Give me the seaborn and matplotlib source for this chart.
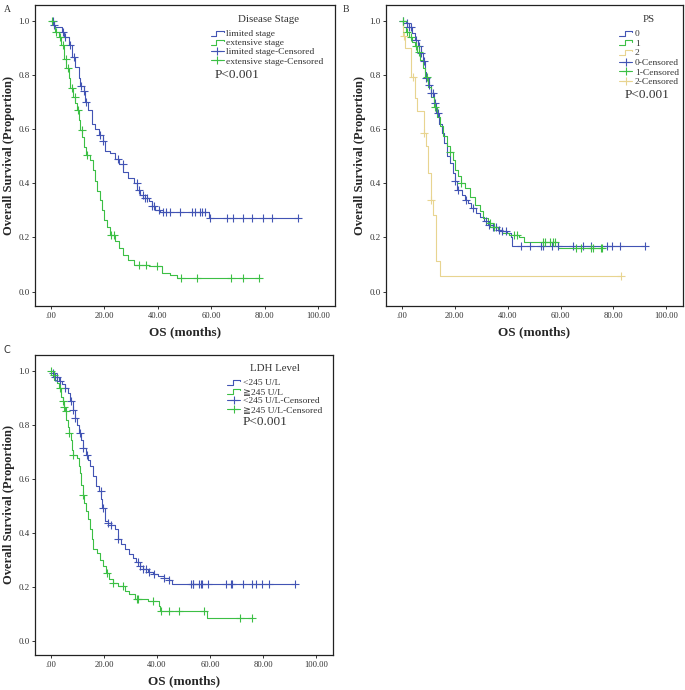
import numpy as np
import matplotlib
matplotlib.use("Agg")
import matplotlib.pyplot as plt
import seaborn as sns
from matplotlib.lines import Line2D
from matplotlib.legend_handler import HandlerBase

sns.set_style("ticks")
plt.rcParams['font.family'] = ['Liberation Serif', 'DejaVu Serif', 'DejaVu Sans']

BLUE = '#4254b4'
GREEN = '#3cbf45'
YELLOW = '#e8d490'

# ---- Panel A: disease stage ----
lim_t = [0, 0.8, 1.6, 4.1, 5.0, 6.6, 7.8, 9.1, 10.3, 11.0, 12.2, 12.8, 14.0, 15.3, 16.3, 18.0,
         19.4, 20.3, 22.2, 24.0, 25.3, 27.1, 29.0, 30.9, 32.1, 33.4, 34.6, 36.5, 37.7, 39.0,
         40.8, 59.3, 92.3]
lim_s = [1.0, 0.984, 0.978, 0.96, 0.94, 0.91, 0.867, 0.83, 0.79, 0.76, 0.74, 0.70, 0.67, 0.62,
         0.60, 0.58, 0.555, 0.52, 0.51, 0.49, 0.47, 0.44, 0.42, 0.40, 0.375, 0.357, 0.345, 0.333,
         0.315, 0.302, 0.294, 0.27, 0.27]
lim_ct = [0.6, 1.2, 4.5, 5.3, 7.0, 8.5, 11.3, 12.5, 13.2, 18.5, 19.6, 25.0, 27.0, 32.0, 33.0,
          34.5, 35.2, 36.0, 37.8, 38.5, 40.5, 42.0, 43.0, 44.6, 48.3, 52.7, 53.9, 55.8, 56.4,
          57.7, 59.6, 65.8, 68.2, 72.0, 75.3, 79.5, 82.6, 92.3]

ext_t = [0, 1.0, 1.6, 2.9, 3.9, 4.7, 5.7, 6.6, 7.2, 8.2, 9.1, 9.7, 10.6, 11.0, 11.6, 12.2, 13.2,
         14.7, 15.7, 16.6, 17.2, 18.2, 19.0, 19.9, 20.9, 22.2, 24.0, 25.3, 27.1, 29.0, 30.9,
         36.5, 41.5, 44.6, 47.3, 78.0]
ext_s = [1.0, 0.978, 0.96, 0.94, 0.91, 0.86, 0.825, 0.79, 0.75, 0.72, 0.695, 0.67, 0.634, 0.597,
         0.572, 0.535, 0.505, 0.487, 0.45, 0.407, 0.37, 0.34, 0.30, 0.265, 0.24, 0.21, 0.186,
         0.16, 0.135, 0.117, 0.10, 0.093, 0.07, 0.063, 0.05, 0.05]
ext_ct = [0.3, 2.0, 3.3, 4.5, 5.5, 6.5, 8.0, 9.0, 10.0, 11.5, 13.5, 22.5, 23.5, 33.0, 35.5,
          39.5, 48.5, 54.8, 67.5, 71.8, 78.0]

# ---- Panel B: PS ----
ps0_t = [0, 1.5, 2.7, 4.0, 4.8, 6.1, 7.1, 7.9, 8.7, 9.3, 10.2, 11.0, 12.0, 13.0, 14.1, 15.1,
         16.0, 17.0, 18.2, 19.5, 20.1, 20.9, 22.6, 23.8, 25.0, 26.3, 28.1, 29.4, 31.2, 32.5,
         34.3, 36.2, 38.0, 39.9, 41.1, 41.5, 91.9]
ps0_s = [1.0, 0.99, 0.978, 0.953, 0.93, 0.905, 0.88, 0.85, 0.81, 0.787, 0.763, 0.732, 0.695,
         0.658, 0.62, 0.585, 0.548, 0.50, 0.474, 0.437, 0.407, 0.376, 0.357, 0.339, 0.327,
         0.307, 0.29, 0.277, 0.26, 0.247, 0.237, 0.228, 0.222, 0.216, 0.20, 0.167, 0.167]
ps0_ct = [0.6, 2.1, 2.7, 3.5, 5.2, 6.4, 7.4, 8.3, 9.3, 10.2, 11.0, 11.8, 12.6, 13.5, 20.1, 21.3,
          24.4, 26.9, 31.8, 33.1, 34.3, 35.6, 36.8, 38.0, 39.3, 44.9, 48.6, 52.7, 53.5, 56.9,
          59.1, 64.7, 68.4, 71.7, 77.4, 79.5, 82.6, 91.9]

ps1_t = [0, 0.6, 1.5, 2.7, 4.0, 4.8, 5.8, 6.8, 8.1, 8.9, 9.9, 11.0, 12.0, 13.3, 14.5, 15.7, 17.0,
         18.2, 19.2, 20.1, 21.3, 22.2, 23.8, 25.7, 27.5, 29.4, 30.6, 32.5, 34.3, 36.2, 38.0,
         40.5, 44.2, 46.3, 58.9, 75.6]
ps1_s = [1.0, 0.978, 0.96, 0.94, 0.923, 0.905, 0.886, 0.855, 0.824, 0.794, 0.757, 0.72, 0.683,
         0.646, 0.61, 0.573, 0.536, 0.517, 0.487, 0.45, 0.425, 0.40, 0.382, 0.35, 0.32, 0.296,
         0.271, 0.253, 0.237, 0.228, 0.216, 0.21, 0.20, 0.185, 0.161, 0.161]
ps1_ct = [0.4, 2.0, 3.3, 5.2, 6.5, 9.5, 12.5, 18.2, 22.5, 33.5, 35.0, 42.4, 43.6, 53.2, 54.2,
          56.1, 57.0, 58.0, 65.9, 67.8, 71.5, 72.1, 75.2, 75.6]

ps2_t = [0, 0.5, 1.2, 3.3, 4.8, 5.8, 8.3, 9.3, 9.8, 11.0, 11.8, 13.0, 14.3, 82.7]
ps2_s = [1.0, 0.944, 0.898, 0.794, 0.714, 0.667, 0.585, 0.536, 0.437, 0.34, 0.284, 0.112,
         0.059, 0.059]
ps2_ct = [0.9, 4.1, 8.4, 11.2, 82.7]

# ---- Panel C: LDH level ----
ldh_lo_t = [0, 0.7, 1.6, 2.9, 4.1, 5.4, 6.6, 7.2, 8.2, 9.1, 10.0, 10.7, 11.2, 12.2, 13.1, 14.1,
            14.9, 15.9, 16.9, 18.1, 19.0, 19.4, 20.3, 21.5, 22.8, 24.0, 25.3, 26.5, 27.8, 29.6,
            30.9, 32.1, 33.4, 34.6, 36.5, 38.4, 40.2, 42.7, 44.6, 45.8, 92.0]
ldh_lo_s = [1.0, 0.99, 0.978, 0.96, 0.95, 0.935, 0.916, 0.886, 0.855, 0.824, 0.80, 0.77, 0.744,
            0.713, 0.689, 0.67, 0.646, 0.609, 0.572, 0.554, 0.523, 0.492, 0.443, 0.434, 0.43,
            0.412, 0.375, 0.357, 0.338, 0.32, 0.308, 0.291, 0.277, 0.264, 0.255, 0.246, 0.24,
            0.234, 0.225, 0.21, 0.21]
ldh_lo_ct = [0.7, 1.6, 2.2, 3.5, 5.4, 7.5, 8.5, 9.1, 11.0, 12.2, 13.5, 18.8, 19.7, 21.5, 22.8,
             25.3, 32.7, 33.4, 34.6, 35.9, 37.1, 39.0, 42.7, 44.6, 52.7, 53.4, 53.6, 55.9, 56.5,
             56.9, 59.3, 66.1, 67.7, 68.1, 72.3, 75.8, 77.3, 79.5, 82.0, 92.0]

ldh_hi_t = [0, 1.0, 1.2, 2.2, 3.2, 3.9, 4.4, 5.0, 5.4, 5.7, 6.4, 6.8, 7.5, 7.8, 8.5, 9.7, 10.6,
            11.0, 11.3, 12.0, 12.6, 13.2, 14.1, 14.7, 15.3, 15.9, 17.2, 18.4, 19.7, 20.7, 21.9,
            23.4, 25.3, 27.8, 29.6, 31.5, 36.5, 40.6, 41.1, 58.9, 75.7]
ldh_hi_s = [1.0, 0.984, 0.966, 0.953, 0.935, 0.904, 0.886, 0.867, 0.849, 0.818, 0.793, 0.77,
            0.744, 0.707, 0.689, 0.676, 0.646, 0.621, 0.578, 0.541, 0.51, 0.48, 0.449, 0.412,
            0.375, 0.338, 0.326, 0.30, 0.277, 0.252, 0.23, 0.215, 0.203, 0.185, 0.172, 0.156,
            0.148, 0.13, 0.11, 0.083, 0.083]
ldh_hi_ct = [0.2, 1.0, 3.5, 4.5, 5.0, 5.5, 6.8, 8.5, 12.0, 21.0, 23.5, 27.0, 32.5, 33.0, 38.5,
             41.5, 44.5, 48.4, 57.8, 71.4, 75.6]

x_ticks = [0, 20, 40, 60, 80, 100]
x_tick_labels = ['.00', '20.00', '40.00', '60.00', '80.00', '100.00']
y_ticks = [0.0, 0.2, 0.4, 0.6, 0.8, 1.0]
y_tick_labels = ['0.0', '0.2', '0.4', '0.6', '0.8', '1.0']


class StepHandler(HandlerBase):
    # little step symbol like the SPSS legend
    def create_artists(self, legend, orig_handle, xdescent, ydescent, width, height, fontsize, trans):
        x0 = -xdescent
        y0 = -ydescent
        xs = [x0, x0 + width * 0.45, x0 + width * 0.45, x0 + width, x0 + width]
        ys = [y0 + height * 0.1, y0 + height * 0.1, y0 + height * 0.85, y0 + height * 0.85,
              y0 + height * 0.6]
        ln = Line2D(xs, ys, color=orig_handle.get_color(), lw=0.8, transform=trans)
        return [ln]


def km(ax, t, s, ct, color):
    t = np.array(t)
    s = np.array(s)
    ct = np.array(ct)
    cs = s[np.searchsorted(t, ct, side='right') - 1]
    sns.lineplot(x=t, y=s, drawstyle='steps-post', estimator=None, sort=False,
                 color=color, lw=0.8, ax=ax)
    sns.scatterplot(x=ct, y=cs, marker='+', color=color, s=28, linewidth=0.8, ax=ax, zorder=3)


def style_axes(ax):
    ax.set_xlim(-6, 106.3)
    ax.set_ylim(-0.053, 1.058)
    ax.set_xticks(x_ticks)
    ax.set_xticklabels(x_tick_labels, fontsize=6.2)
    ax.set_yticks(y_ticks)
    ax.set_yticklabels(y_tick_labels, fontsize=6.5)
    ax.tick_params(length=2.5, width=0.7, pad=1.5, colors='#333333')
    for sp in ax.spines.values():
        sp.set_visible(True)
        sp.set_linewidth(0.9)
        sp.set_color('#222222')
    ax.set_xlabel('OS (months)', fontsize=9.5, fontweight='bold', labelpad=5)
    ax.set_ylabel('Overall Survival (Proportion)', fontsize=9, fontweight='bold', labelpad=2)


def add_legend(ax, title, title_x, labels, colors, x, y, ptext_xy, spacing=0.05):
    handles = []
    hmap = {}
    for c in colors:
        h = Line2D([], [], color=c)
        handles.append(h)
        hmap[h] = StepHandler()
    for c in colors:
        handles.append(Line2D([], [], color=c, lw=0.8, marker='+', markersize=6, markeredgewidth=0.8))
    leg = ax.legend(handles, labels, handler_map=hmap, loc='upper left',
                    bbox_to_anchor=(x, y), frameon=False, fontsize=6.8,
                    handlelength=1.4, handletextpad=0.25, labelspacing=spacing, borderpad=0,
                    borderaxespad=0)
    for txt in leg.get_texts():
        txt.set_color('#333333')
    ax.text(title_x, 1 - 14 / 301, title, transform=ax.transAxes, fontsize=7.8,
            color='#333333', va='center', ha='center')
    ax.text(ptext_xy[0], ptext_xy[1], 'P<0.001', transform=ax.transAxes, fontsize=9.5,
            color='#333333', va='center', ha='left')


fig = plt.figure(figsize=(6.85, 6.9), dpi=100)
fig.patch.set_facecolor('white')

axA = fig.add_axes([35 / 685, 1 - 306 / 690, 300 / 685, 301 / 690])
km(axA, lim_t, lim_s, lim_ct, BLUE)
km(axA, ext_t, ext_s, ext_ct, GREEN)
style_axes(axA)
add_legend(axA, 'Disease Stage', (268 - 35) / 300,
           ['limited stage', 'extensive stage', 'limited stage-Censored', 'extensive stage-Censored'],
           [BLUE, GREEN], 0.585, 0.918, (0.60, 0.767))

axB = fig.add_axes([386 / 685, 1 - 306 / 690, 297 / 685, 301 / 690])
km(axB, ps0_t, ps0_s, ps0_ct, BLUE)
km(axB, ps1_t, ps1_s, ps1_ct, GREEN)
km(axB, ps2_t, ps2_s, ps2_ct, YELLOW)
style_axes(axB)
add_legend(axB, 'PS', (649 - 386) / 297, ['0', '1', '2', '0-Censored', '1-Censored', '2-Censored'],
           [BLUE, GREEN, YELLOW], 0.785, 0.918, (0.805, 0.70), spacing=0.1)

axC = fig.add_axes([35 / 685, 1 - 655 / 690, 298 / 685, 300 / 690])
km(axC, ldh_lo_t, ldh_lo_s, ldh_lo_ct, BLUE)
km(axC, ldh_hi_t, ldh_hi_s, ldh_hi_ct, GREEN)
style_axes(axC)
add_legend(axC, 'LDH Level', (275 - 35) / 298,
           ['<245 U/L', '≧245 U/L', '<245 U/L-Censored', '≧245 U/L-Censored'],
           [BLUE, GREEN], 0.645, 0.921, (0.695, 0.777))

fig.text(4 / 685, 1 - 9 / 690, 'A', fontsize=7, color='#333333', va='center')
fig.text(343 / 685, 1 - 9 / 690, 'B', fontsize=7, color='#333333', va='center')
fig.text(4 / 685, 1 - 350 / 690, 'C', fontsize=7, color='#333333', va='center',
         family=['DejaVu Sans'])

fig.savefig('out.png', dpi=100, facecolor='white')
